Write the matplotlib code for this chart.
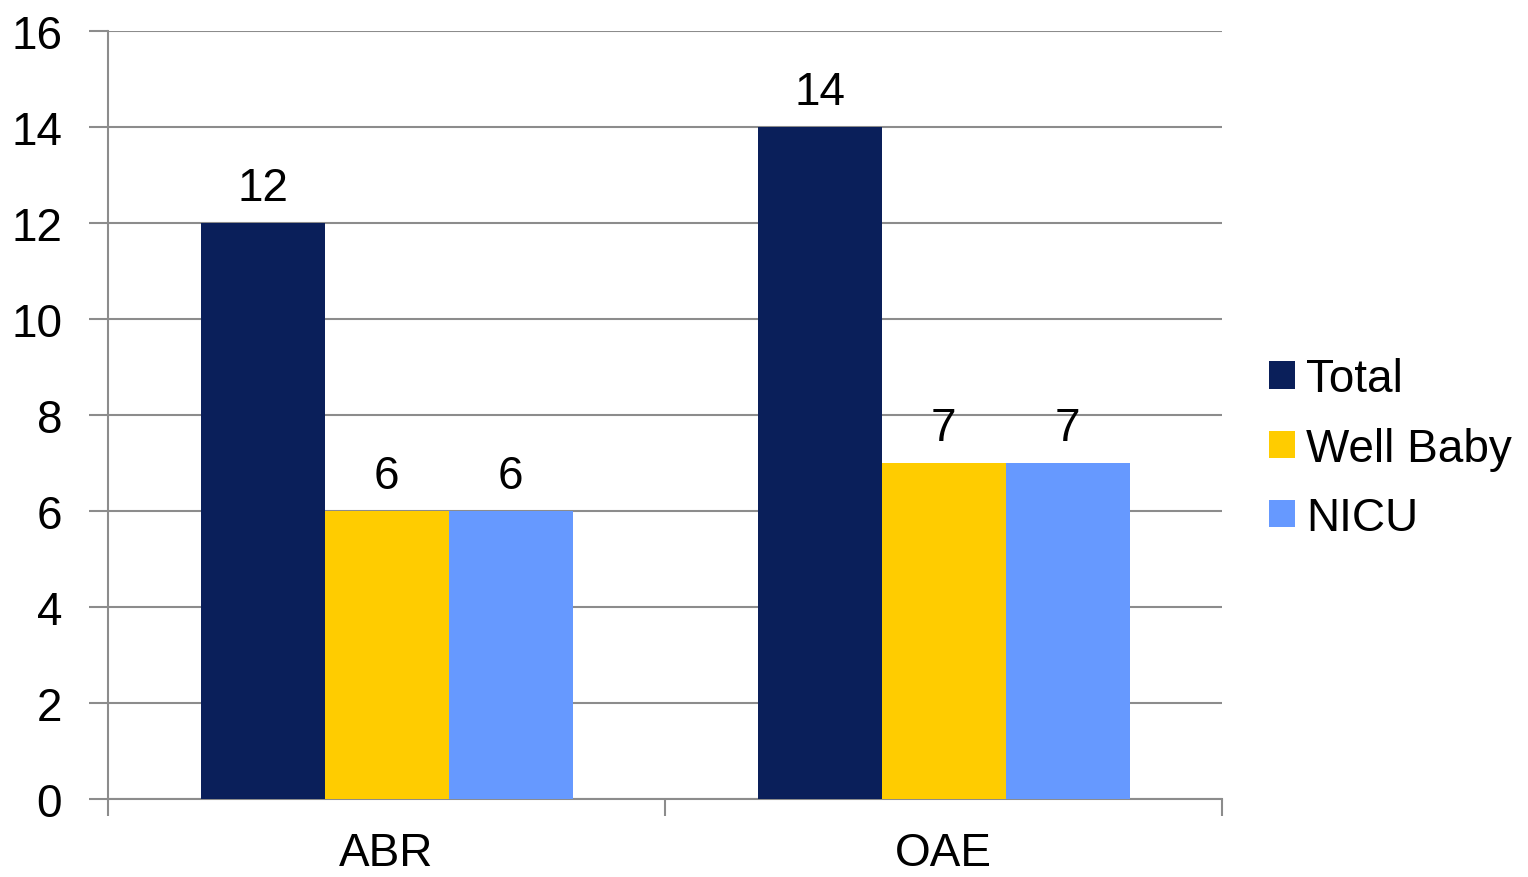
import matplotlib
matplotlib.use("Agg")
import matplotlib.pyplot as plt
import numpy as np
from matplotlib.patches import Patch

categories = ["ABR", "OAE"]
series_names = ["Total", "Well Baby", "NICU"]
total = [12, 14]
well_baby = [6, 7]
nicu = [6, 7]
colors = ["#0A1F5A", "#FFCC00", "#6699FF"]
y_ticks = [0, 2, 4, 6, 8, 10, 12, 14, 16]

plt.rcParams['font.family'] = ['Liberation Sans', 'DejaVu Sans']
fig = plt.figure(figsize=(15.28, 8.78), dpi=100)
W, H = 1528, 878
ax = fig.add_axes([108 / W, 1 - 800 / H, (1222 - 108) / W, (800 - 32) / H])

x = np.arange(len(categories))
bw = 124 / 557
fs = 33
for i, (vals, name, c) in enumerate(zip([total, well_baby, nicu], series_names, colors)):
    pos = x + (i - 1) * bw
    bars = ax.bar(pos, vals, width=bw, color=c, zorder=3, label=name)
    for p, v in zip(pos, vals):
        ax.text(p, v + 0.28, str(v), ha='center', va='bottom', fontsize=fs)

ax.set_xlim(-0.5, 1.5)
ax.set_ylim(0, 16)
ax.set_yticks(y_ticks)
ax.set_yticklabels([str(t) for t in y_ticks], fontsize=fs)
ax.set_xticks([-0.5, 0.5, 1.5])
ax.set_xticklabels([])
ax.set_xticks(x, minor=True)
ax.set_xticklabels(categories, minor=True, fontsize=fs)
ax.tick_params(axis='x', which='minor', length=0, pad=23)
ax.tick_params(axis='x', which='major', length=12, width=1.5, color='#8c8c8c')
ax.tick_params(axis='y', length=14, width=1.5, color='#8c8c8c', pad=19)
ax.grid(axis='y', color='#8c8c8c', linewidth=1.5, zorder=0)
for s in ['top', 'right']:
    ax.spines[s].set_visible(False)
for s in ['left', 'bottom']:
    ax.spines[s].set_color('#8c8c8c')
    ax.spines[s].set_linewidth(1.5)

handles = [Patch(facecolor=c, label=n) for c, n in zip(colors, series_names)]
fig.legend(handles=handles, loc='upper left', bbox_to_anchor=(1251 / W, 1 - 340 / H),
           frameon=False, fontsize=fs, handlelength=0.55, handleheight=0.55,
           handletextpad=0.26, labelspacing=0.55, borderaxespad=0)

fig.savefig("out.png", dpi=100)
